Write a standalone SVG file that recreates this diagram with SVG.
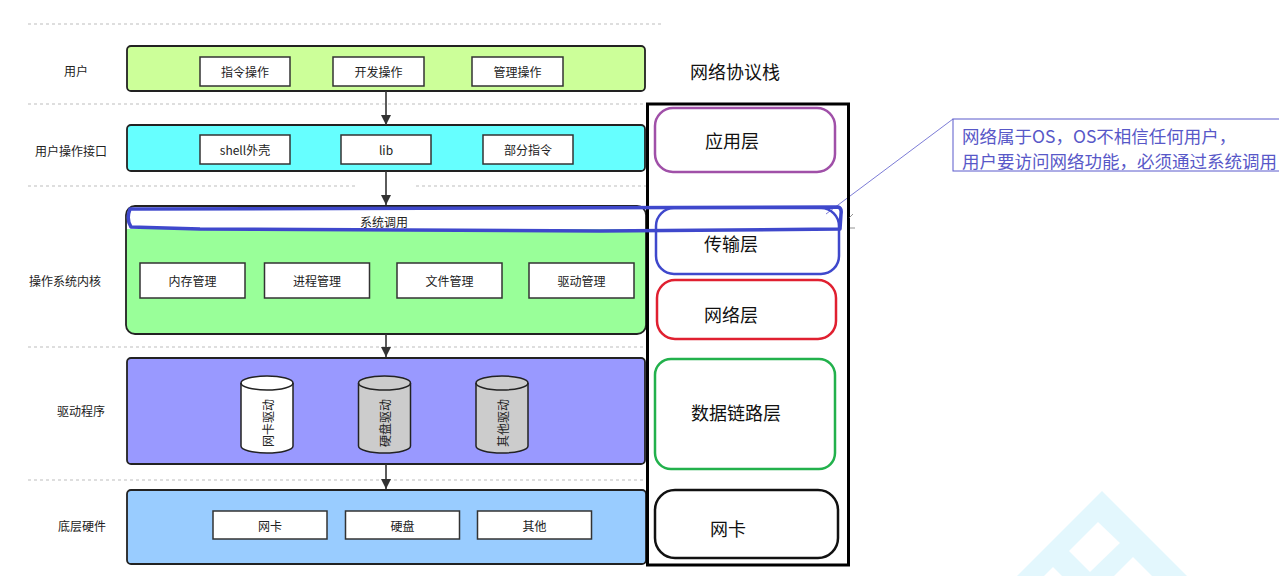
<svg xmlns="http://www.w3.org/2000/svg" width="1279" height="576" viewBox="0 0 1279 576">
<defs>
<style>
text{font-family:"Noto Sans CJK SC","Liberation Sans",sans-serif;}
.lbl{font-size:12px;fill:#222;text-anchor:middle;dominant-baseline:central;}
.big{font-size:18px;fill:#111;text-anchor:middle;dominant-baseline:central;}
.dash{stroke:#bdbdbd;stroke-width:1;stroke-dasharray:3 3;fill:none;}
.layer{stroke:#222;stroke-width:1.8;}
.inner{fill:#fff;stroke:#333;stroke-width:1.5;}
.cyl{stroke:#222;stroke-width:1.5;}
.arrow{stroke:#333;stroke-width:1.6;fill:none;marker-end:url(#ah);}
.stack{fill:none;stroke-width:2.5;}
</style>
<marker id="ah" viewBox="0 0 10 10" refX="10" refY="5" markerWidth="11" markerHeight="10" markerUnits="userSpaceOnUse" orient="auto">
<path d="M0,0 L10,5 L0,10 Z" fill="#333"/>
</marker>
</defs>
<rect width="1279" height="576" fill="#fff"/>

<!-- watermark -->
<g id="watermark">
<polygon points="1102,491 1187,576 1017,576" fill="#e3f7fd"/>
<polygon points="1098,522 1120,543 1090,572 1069,551" fill="#fff"/>
<polygon points="1053,567 1062,576 1044,576" fill="#fff"/>
<polygon points="1133,557 1152,576 1114,576" fill="#fff"/>
</g>

<g id="separators">
<line class="dash" x1="28" y1="24" x2="663" y2="24"/>
<line class="dash" x1="28" y1="104" x2="647" y2="104"/>
<line class="dash" x1="28" y1="186" x2="358" y2="186"/>
<line class="dash" x1="416" y1="186" x2="647" y2="186"/>
<line class="dash" x1="28" y1="347" x2="647" y2="347"/>
<line class="dash" x1="28" y1="480" x2="647" y2="480"/>
</g>

<g id="row-labels">
<text class="lbl" x="76" y="70">用户</text>
<text class="lbl" x="71" y="150">用户操作接口</text>
<text class="lbl" x="65" y="280">操作系统内核</text>
<text class="lbl" x="81" y="410">驱动程序</text>
<text class="lbl" x="82" y="525">底层硬件</text>
</g>

<g id="user">
<rect class="layer" x="127" y="46" width="518" height="45" rx="4" fill="#ccff99"/>
<rect class="inner" x="200" y="57" width="90" height="29"/>
<text class="lbl" x="245" y="71.5">指令操作</text>
<rect class="inner" x="333" y="57" width="91" height="29"/>
<text class="lbl" x="378.5" y="71.5">开发操作</text>
<rect class="inner" x="472" y="57" width="91" height="29"/>
<text class="lbl" x="517.5" y="71.5">管理操作</text>
</g>

<g id="user-interface">
<rect class="layer" x="127" y="125" width="518" height="46" rx="4" fill="#66ffff"/>
<rect class="inner" x="200" y="135" width="90" height="29"/>
<text class="lbl" x="245" y="149.5">shell外壳</text>
<rect class="inner" x="341" y="135" width="90" height="29"/>
<text class="lbl" x="386" y="149.5">lib</text>
<rect class="inner" x="483" y="135" width="90" height="29"/>
<text class="lbl" x="528" y="149.5">部分指令</text>
</g>

<g id="kernel">
<rect x="126" y="206" width="520" height="128" rx="9" fill="#99ff99"/>
<path d="M135,206 H637 A9,9 0 0 1 646,215 V229 H126 V215 A9,9 0 0 1 135,206 Z" fill="#fff"/>
<rect class="layer" x="126" y="206" width="520" height="128" rx="9" fill="none"/>
<text class="lbl" x="384" y="221">系统调用</text>
<rect class="inner" x="140" y="263" width="105" height="35"/>
<text class="lbl" x="192.5" y="280.5">内存管理</text>
<rect class="inner" x="264.5" y="263" width="105" height="35"/>
<text class="lbl" x="317" y="280.5">进程管理</text>
<rect class="inner" x="397" y="263" width="105" height="35"/>
<text class="lbl" x="449.5" y="280.5">文件管理</text>
<rect class="inner" x="529" y="263" width="105" height="35"/>
<text class="lbl" x="581.5" y="280.5">驱动管理</text>
</g>

<g id="drivers">
<rect class="layer" x="127" y="358" width="518" height="106" rx="4" fill="#9999ff"/>
<g id="nic-driver">
<path class="cyl" d="M241,383 A26,7 0 0 1 293,383 V446 A26,7 0 0 1 241,446 Z" fill="#fff"/>
<path class="cyl" d="M241,383 A26,7 0 0 0 293,383" fill="none"/>
<text class="lbl" x="267" y="423" transform="rotate(-90 267 423)">网卡驱动</text>
</g>
<g id="disk-driver">
<path class="cyl" d="M358.5,383 A26,7 0 0 1 410.5,383 V446 A26,7 0 0 1 358.5,446 Z" fill="#cccccc"/>
<path class="cyl" d="M358.5,383 A26,7 0 0 0 410.5,383" fill="none"/>
<text class="lbl" x="384.5" y="423" transform="rotate(-90 384.5 423)">硬盘驱动</text>
</g>
<g id="other-driver">
<path class="cyl" d="M476,383 A26,7 0 0 1 528,383 V446 A26,7 0 0 1 476,446 Z" fill="#cccccc"/>
<path class="cyl" d="M476,383 A26,7 0 0 0 528,383" fill="none"/>
<text class="lbl" x="502" y="423" transform="rotate(-90 502 423)">其他驱动</text>
</g>
</g>

<g id="hardware">
<rect class="layer" x="127" y="490" width="519" height="74" rx="4" fill="#99ccff"/>
<rect class="inner" x="213" y="511" width="114" height="28"/>
<text class="lbl" x="270" y="525">网卡</text>
<rect class="inner" x="345.5" y="511" width="114" height="28"/>
<text class="lbl" x="402.5" y="525">硬盘</text>
<rect class="inner" x="477.5" y="511" width="114" height="28"/>
<text class="lbl" x="534.5" y="525">其他</text>
</g>

<g id="connectors">
<line class="arrow" x1="386" y1="91" x2="386" y2="125"/>
<line class="arrow" x1="386" y1="171" x2="386" y2="205"/>
<line class="arrow" x1="386" y1="334" x2="386" y2="357"/>
<line class="arrow" x1="386" y1="464" x2="386" y2="489"/>
<line x1="953" y1="119" x2="826" y2="214" stroke="#5a5acc" stroke-width="0.8"/>
</g>

<g id="protocol-stack">
<text class="big" x="735" y="71">网络协议栈</text>
<rect x="647.5" y="104" width="201" height="461" fill="none" stroke="#000" stroke-width="3"/>
<g id="app-layer">
<rect class="stack" x="655" y="108" width="180" height="64" rx="18" stroke="#a050a8"/>
<text class="big" x="732" y="140">应用层</text>
</g>
<g id="transport-layer">
<rect class="stack" x="656" y="208" width="183" height="66" rx="18" stroke="#3f48cc"/>
<text class="big" x="731" y="243">传输层</text>
</g>
<g id="network-layer">
<rect class="stack" x="657" y="280" width="179" height="59" rx="18" stroke="#e02030"/>
<text class="big" x="731" y="314">网络层</text>
</g>
<g id="link-layer">
<rect class="stack" x="655" y="359" width="180" height="110" rx="16" stroke="#22b14c"/>
<text class="big" x="736" y="412">数据链路层</text>
</g>
<g id="nic-layer">
<rect class="stack" x="655" y="490" width="183" height="68" rx="20" stroke="#111"/>
<text class="big" x="728" y="528">网卡</text>
</g>
</g>

<g id="syscall-highlight">
<path d="M130,209 L838,207 Q842,208 841,214 L840,229 L600,231 L200,229 L131,227 Q126,219 130,209 Z" fill="none" stroke="#3f48cc" stroke-width="3.5" stroke-linejoin="round"/>
<path d="M849,218 L853,214 M850,228 L855,228" stroke="#777" stroke-width="0.8"/>
</g>

<g id="note">
<rect x="953" y="119" width="340" height="52" fill="none" stroke="#5a5acc" stroke-width="1"/>
<text x="962" y="135" font-size="17.5" fill="#5858c8" dominant-baseline="central">网络属于OS，OS不相信任何用户，</text>
<text x="962" y="160" font-size="17.5" fill="#5858c8" dominant-baseline="central">用户要访问网络功能，必须通过系统调用</text>
</g>
</svg>
